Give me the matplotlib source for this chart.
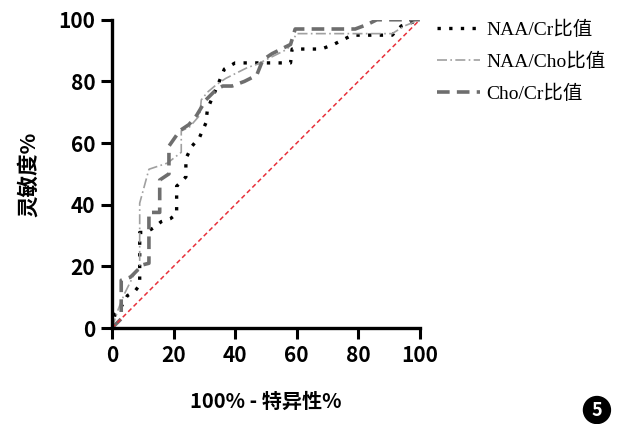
import matplotlib.pyplot as plt
import numpy as np

# ── data ─────────────────────────────────────────────────────────────────────
naa_cr_x = [0, 1, 2.5, 5, 7.5, 9, 9, 11, 13.5, 16, 19, 21, 21, 24, 24, 26, 28.5, 30.5,
            31, 34, 36.5, 40, 58, 58.5, 68, 72, 75, 78, 91, 94, 100]
naa_cr_y = [0, 4.5, 6, 10.5, 12, 14, 31, 31, 32.5, 34.5, 35.5, 37, 46, 49, 55, 59, 62, 66.5,
            71, 78, 84, 86, 86, 90.5, 90.5, 92, 93.5, 95, 95, 98, 100]

naa_cho_x = [0, 2, 4, 7, 9, 9, 12, 18, 22.5, 22.5, 25, 28.5, 29, 31, 34, 37, 44, 47, 50,
             57, 60, 91, 95, 100]
naa_cho_y = [0, 6, 11, 17, 20, 40.5, 51.5, 53.5, 57, 64, 65, 69, 74, 76.5, 79, 81, 84.5,
             85.5, 87, 90.5, 95.5, 95.5, 98, 100]

cho_cr_x = [0, 3, 3, 6, 10, 12, 12, 15.5, 15.5, 18.5, 18.5, 22, 25, 27.5, 30.5, 34, 36, 39,
            43, 47, 49, 52, 55, 58, 59.5, 79, 83, 86, 100]
cho_cr_y = [0, 3, 15.5, 16.5, 20.5, 21, 37.5, 37.5, 48, 50, 59, 64, 66, 69, 74, 77.5, 78.5,
            78.5, 80, 82, 87, 89, 90.5, 92, 97, 97, 98.5, 100, 100]

labels = ['NAA/Cr比值', 'NAA/Cho比值', 'Cho/Cr比值']
ticks = [0, 20, 40, 60, 80, 100]

cjk_bold = ['Noto Sans CJK SC', 'DejaVu Sans']
legend_font = ['Liberation Serif', 'Noto Sans CJK SC']

fig = plt.figure(figsize=(6.17, 4.24), dpi=100)
ax = fig.add_axes([0.1815, 0.2264, 0.499, 0.727])

ax.plot(naa_cr_x, naa_cr_y, color='black', linestyle=(0, (1, 2.5)), linewidth=2.4,
        label=labels[0])
ax.plot(naa_cho_x, naa_cho_y, color='#a0a0a0', linestyle=(0, (6, 2, 1, 2)), linewidth=1.2,
        label=labels[1])
ax.plot(cho_cr_x, cho_cr_y, color='#6e6e6e', linestyle=(0, (3.5, 2)), linewidth=2.6,
        label=labels[2])
ax.plot([0, 100], [0, 100], color='#e8303a', linestyle=(0, (3, 2)), linewidth=1.1)

ax.set_xlim(0, 100)
ax.set_ylim(0, 100)
ax.set_xticks(ticks)
ax.set_yticks(ticks)
for s in ['top', 'right']:
    ax.spines[s].set_visible(False)
for s in ['left', 'bottom']:
    ax.spines[s].set_linewidth(2.4)
ax.tick_params(direction='out', length=8, width=2.2, pad=4)
for lab in ax.get_xticklabels() + ax.get_yticklabels():
    lab.set_fontfamily(cjk_bold)
    lab.set_fontweight('bold')
    lab.set_fontsize(15)

ax.set_xlabel('100% - 特异性%', family=cjk_bold, fontweight='bold', fontsize=14.5, labelpad=18)
ax.set_ylabel('灵敏度%', family=cjk_bold, fontweight='bold', fontsize=15.5, labelpad=14)

leg = ax.legend(loc='upper left', bbox_to_anchor=(1.0, 1.055), frameon=False,
                handlelength=2.2, handletextpad=0.3, labelspacing=0.72,
                prop={'family': legend_font, 'size': 14})

fig.text(0.9675, 0.033, '5', ha='center', va='center', color='white', fontsize=13,
         fontweight='bold', family=cjk_bold,
         bbox=dict(boxstyle='circle,pad=0.22', facecolor='black', edgecolor='black'))

fig.savefig('out.png', dpi=100)
